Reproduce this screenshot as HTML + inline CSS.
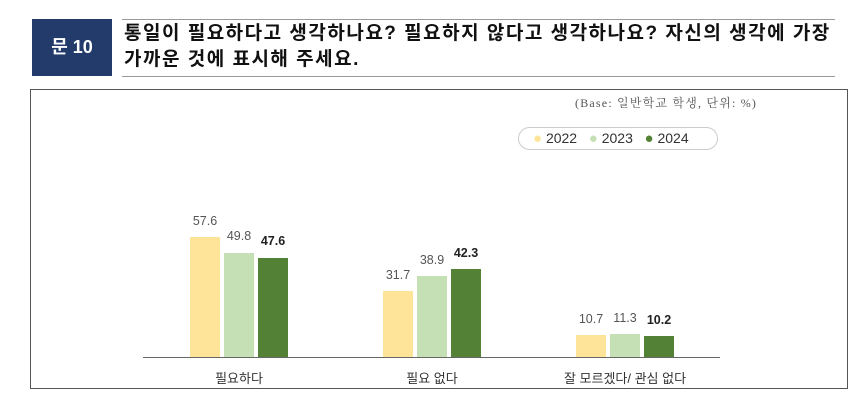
<!DOCTYPE html><html><head><meta charset="utf-8"><style>
body{margin:0;width:860px;height:407px;background:#fff;position:relative;font-family:"Liberation Sans","Noto Sans CJK KR",sans-serif;overflow:hidden}
.a{position:absolute}
</style></head><body>
<div class="a" style="left:32px;top:19px;width:80px;height:57px;background:#223b6b;color:#fff;font-weight:bold;font-size:18px;line-height:57px;text-align:center">문 10</div>
<div class="a" style="left:122px;top:19px;width:713px;height:1px;background:#999"></div>
<div class="a" style="left:122px;top:76px;width:713px;height:1px;background:#999"></div>
<div class="a" style="left:124px;top:21px;font-size:19px;font-weight:bold;line-height:26px;color:#111;letter-spacing:1.5px;white-space:nowrap">통일이 필요하다고 생각하나요? 필요하지 않다고 생각하나요? 자신의 생각에 가장<br>가까운 것에 표시해 주세요.</div>
<div class="a" style="left:30px;top:89px;width:818px;height:300px;border:1px solid #555;box-sizing:border-box"></div>
<div class="a" style="left:575px;top:94px;font-size:12px;color:#555;font-family:'Liberation Serif','Noto Serif CJK SC',serif;letter-spacing:1.2px;white-space:nowrap">(Base: 일반학교 학생, 단위: %)</div>
<div class="a" style="left:518px;top:127px;width:200px;height:23px;border:1px solid #ccc;border-radius:12px;box-sizing:border-box;font-size:14px;color:#333;line-height:21px;padding-left:14px">
<span style="color:#fde498;font-size:15px">●</span> 2022 &nbsp;&nbsp;<span style="color:#c5e0b4;font-size:15px">●</span> 2023 &nbsp;&nbsp;<span style="color:#538135;font-size:15px">●</span> 2024</div>
<svg class="a" style="left:0;top:0" width="860" height="407">
<g fill="#fde498"><rect x="190" y="237" width="30" height="120"/><rect x="383" y="291" width="30" height="66"/><rect x="576" y="335" width="30" height="22"/></g>
<g fill="#c5e0b4"><rect x="224" y="253" width="30" height="104"/><rect x="417" y="276" width="30" height="81"/><rect x="610" y="334" width="30" height="23"/></g>
<g fill="#538135"><rect x="258" y="258" width="30" height="99"/><rect x="451" y="269" width="30" height="88"/><rect x="644" y="336" width="30" height="21"/></g>
<line x1="143" y1="357.5" x2="720" y2="357.5" stroke="#666"/>
<g font-size="12.5" fill="#555" text-anchor="middle" font-family="Liberation Sans,sans-serif">
<text x="205" y="225">57.6</text><text x="239" y="240">49.8</text><text x="273" y="245" font-weight="bold" fill="#222">47.6</text>
<text x="398" y="279">31.7</text><text x="432" y="264">38.9</text><text x="466" y="257" font-weight="bold" fill="#222">42.3</text>
<text x="591" y="323">10.7</text><text x="625" y="322">11.3</text><text x="659" y="324" font-weight="bold" fill="#222">10.2</text>
</g>
<g font-size="13" fill="#333" text-anchor="middle" font-family="Liberation Sans,Noto Sans CJK KR,sans-serif">
<text x="239" y="383">필요하다</text><text x="432" y="383">필요 없다</text><text x="625" y="383">잘 모르겠다/ 관심 없다</text>
</g>
</svg>
</body></html>
